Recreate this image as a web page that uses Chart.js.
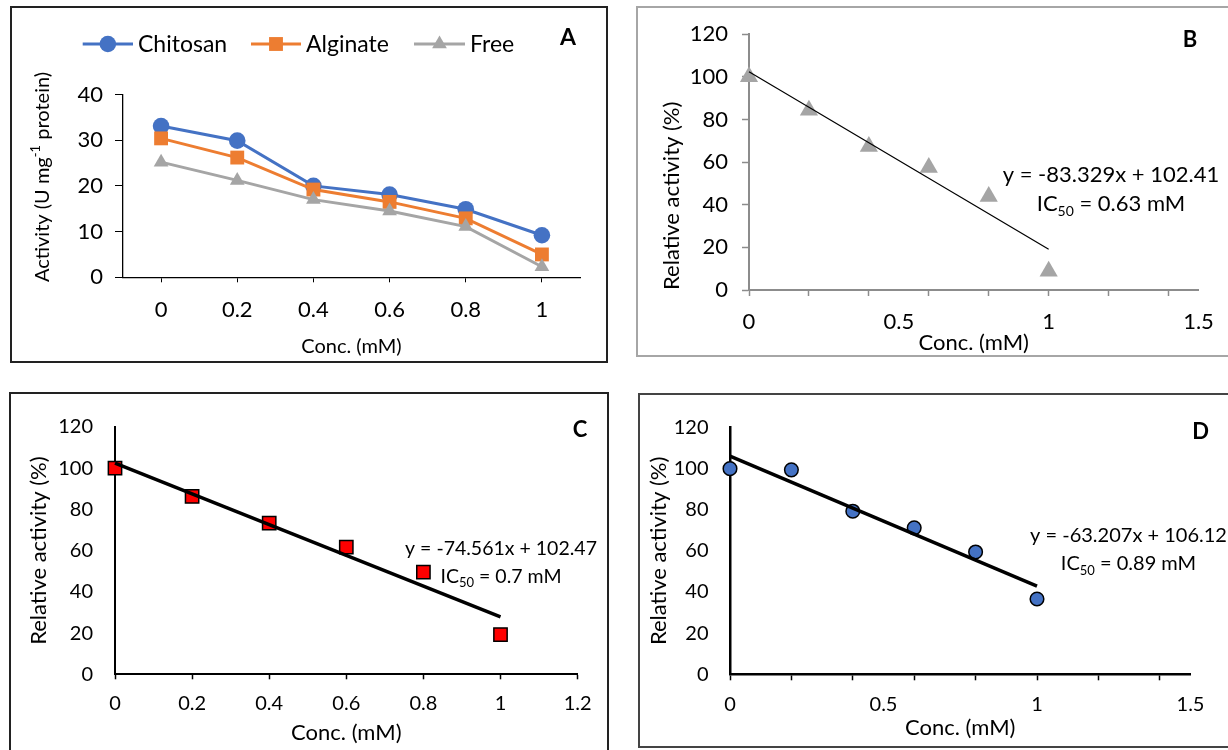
<!DOCTYPE html>
<html>
<head>
<meta charset="utf-8">
<script src="https://cdn.jsdelivr.net/npm/chart.js@4.4.1/dist/chart.umd.min.js"></script>
<style>
  html, body { margin:0; padding:0; background:#fff; }
  body { width:1228px; height:750px; position:relative; overflow:hidden; font-family: Lato, sans-serif; }
  canvas { position:absolute; }
  .frame { position:absolute; box-sizing:border-box; pointer-events:none; }
</style>
</head>
<body>
<canvas id="cA" width="597" height="356" style="left:10px;top:7px"></canvas>
<canvas id="cB" width="592" height="349" style="left:636px;top:7px"></canvas>
<canvas id="cC" width="599" height="357" style="left:10px;top:393px"></canvas>
<canvas id="cD" width="590" height="353" style="left:638px;top:394px"></canvas>
<div class="frame" style="left:10px;top:6px;width:598px;height:357px;border:2px solid #222"></div>
<div class="frame" style="left:636px;top:6px;width:620px;height:351px;border:2px solid #a6a6a6"></div>
<div class="frame" style="left:9px;top:392px;width:600px;height:380px;border:2px solid #222"></div>
<div class="frame" style="left:638px;top:393px;width:620px;height:355px;border:2px solid #444"></div>
<script>
// ---------- data ----------
const concLabelsA = ['0', '0.2', '0.4', '0.6', '0.8', '1'];
const chitosan = [33.1, 29.9, 20.0, 18.1, 14.9, 9.2];
const alginate = [30.4, 26.2, 19.2, 16.5, 12.9, 5.0];
const free     = [25.2, 21.2, 17.0, 14.5, 11.1, 2.3];

const concX = [0, 0.2, 0.4, 0.6, 0.8, 1];
const relFree     = [100, 84.3, 67.3, 57.5, 43.9, 8.8];
const relAlginate = [100, 86.3, 73.4, 61.7, 49.6, 19.3];
const relChitosan = [100, 99.4, 79.3, 71.2, 59.5, 36.6];

const slopeB = -83.329, interceptB = 102.41, ic50B = '0.63';
const slopeC = -74.561, interceptC = 102.47, ic50C = '0.7';
const slopeD = -63.207, interceptD = 106.12, ic50D = '0.89';

const xTicksB = [0, 0.2, 0.4, 0.5, 0.6, 0.8, 1, 1.2, 1.4, 1.5];
const xLabelsB = [0, 0.5, 1, 1.5];
const xTicksD = [0, 0.2, 0.4, 0.5, 0.6, 0.8, 1, 1.2, 1.4, 1.5];
const xLabelsD = [0, 0.5, 1, 1.5];

// ---------- helpers ----------
Chart.defaults.font.family = 'Lato';
Chart.defaults.color = '#000';
const FAM = 'Lato';
const near = (a, b) => Math.abs(a - b) < 1e-6;
const isTick02 = v => near(Math.round(v / 0.2) * 0.2, v) && !near(v, 1.5);

function drawMarker(ctx, style, x, y, r, fill, stroke, bw) {
  ctx.save();
  ctx.fillStyle = fill; ctx.strokeStyle = stroke; ctx.lineWidth = bw;
  ctx.beginPath();
  if (style === 'circle') ctx.arc(x, y, r, 0, Math.PI * 2);
  else if (style === 'rect') { const s = r * Math.SQRT1_2; ctx.rect(x - s, y - s, 2 * s, 2 * s); }
  else if (style === 'triangle') {
    ctx.moveTo(x, y - r);
    ctx.lineTo(x + r * Math.sin(Math.PI * 2 / 3), y - r * Math.cos(Math.PI * 2 / 3));
    ctx.lineTo(x + r * Math.sin(Math.PI * 4 / 3), y - r * Math.cos(Math.PI * 4 / 3));
    ctx.closePath();
  }
  ctx.fill(); if (bw > 0) ctx.stroke();
  ctx.restore();
}

const textPlugin = {
  id: 'panelText',
  afterDraw(chart, args, opts) {
    const ctx = chart.ctx;
    (opts.items || []).forEach(it => {
      ctx.save();
      ctx.fillStyle = it.color || '#000';
      ctx.textBaseline = 'middle';
      const size = it.size;
      const fontFor = r => `${it.bold ? 'bold ' : ''}${(r.sub || r.sup) ? Math.round(size * 0.65) : size}px ${FAM}`;
      let total = 0;
      it.runs.forEach(r => { ctx.font = fontFor(r); r.w = ctx.measureText(r.t).width; total += r.w; });
      ctx.translate(it.x, it.y);
      if (it.rotate) ctx.rotate(-Math.PI / 2);
      let x = it.align === 'center' ? -total / 2 : (it.align === 'right' ? -total : 0);
      it.runs.forEach(r => {
        ctx.font = fontFor(r); ctx.textAlign = 'left';
        const dy = r.sub ? size * 0.32 : (r.sup ? -size * 0.33 : 0);
        ctx.fillText(r.t, x, dy); x += r.w;
      });
      ctx.restore();
    });
  }
};

const legendPlugin = {
  id: 'lineLegend',
  afterDraw(chart, args, opts) {
    if (!opts.items) return;
    const ctx = chart.ctx;
    opts.items.forEach((it, i) => {
      const ds = chart.data.datasets[i];
      ctx.save();
      ctx.strokeStyle = ds.borderColor; ctx.lineWidth = ds.borderWidth;
      ctx.beginPath(); ctx.moveTo(it.x0, opts.y); ctx.lineTo(it.x1, opts.y); ctx.stroke();
      ctx.restore();
      drawMarker(ctx, ds.pointStyle, (it.x0 + it.x1) / 2, opts.y, ds.pointRadius, ds.pointBackgroundColor, ds.pointBorderColor, 0);
      ctx.save();
      ctx.fillStyle = '#000'; ctx.font = `${opts.size}px ${FAM}`;
      ctx.textBaseline = 'middle'; ctx.textAlign = 'left';
      ctx.fillText(ds.label, it.x1 + 5, opts.y + 1);
      ctx.restore();
    });
  }
};
Chart.register(textPlugin, legendPlugin);

const common = { responsive: false, animation: false, events: [], devicePixelRatio: 1 };
const icRuns = v => [{ t: 'IC' }, { t: '50', sub: true }, { t: ' = ' + v + ' mM' }];
const eqText = (m, b) => 'y = ' + m + 'x + ' + b;

// ---------- Panel A ----------
new Chart(document.getElementById('cA'), {
  type: 'line',
  data: {
    labels: concLabelsA,
    datasets: [
      { label: 'Chitosan', data: chitosan, order: 2, clip: false, borderColor: '#4472C4', borderWidth: 3,
        pointStyle: 'circle', pointRadius: 8.3, pointBackgroundColor: '#4472C4', pointBorderColor: '#4472C4', pointBorderWidth: 0 },
      { label: 'Alginate', data: alginate, order: 1, clip: false, borderColor: '#ED7D31', borderWidth: 3,
        pointStyle: 'rect', pointRadius: 9.8, pointBackgroundColor: '#ED7D31', pointBorderColor: '#ED7D31', pointBorderWidth: 0 },
      { label: 'Free', data: free, order: 0, clip: false, borderColor: '#A5A5A5', borderWidth: 3,
        pointStyle: 'triangle', pointRadius: 8.5, pointBackgroundColor: '#A5A5A5', pointBorderColor: '#A5A5A5', pointBorderWidth: 0 }
    ]
  },
  options: {
    ...common,
    layout: { padding: { top: 87.5, left: 0, right: 27, bottom: 0 } },
    plugins: {
      legend: { display: false }, tooltip: { enabled: false },
      lineLegend: { y: 37, size: 23, items: [ { x0: 72.7, x1: 123 }, { x0: 241, x1: 291 }, { x0: 404, x1: 455 } ] },
      panelText: { items: [
        { x: 558, y: 31, size: 23, bold: true, align: 'center', runs: [{ t: 'A' }] },
        { x: 32.6, y: 170, size: 20, rotate: true, align: 'center', runs: [{ t: 'Activity (U mg' }, { t: '-1', sup: true }, { t: ' protein)' }] }
      ] }
    },
    scales: {
      x: {
        offset: true,
        grid: { offset: false, drawOnChartArea: false, tickLength: 5, color: '#000', tickColor: '#000' },
        border: { color: '#000', width: 1.3 },
        ticks: { color: '#000', font: { size: 22 }, padding: 14.5, maxRotation: 0, autoSkip: false },
        title: { display: true, text: 'Conc. (mM)', color: '#000', font: { size: 20 }, padding: { top: 0, bottom: 4 } },
        afterFit: s => { s.height = 85.7; }
      },
      y: {
        min: 0, max: 40,
        grid: { drawOnChartArea: false, tickLength: 8, color: '#000' },
        border: { color: '#000', width: 1.3 },
        ticks: { stepSize: 10, color: '#000', font: { size: 22 }, padding: 12 },
        afterFit: s => { s.width = 113; }
      }
    }
  }
});

// ---------- scatter panels ----------
function scatterPanel(id, cfg) {
  const xScale = {
    type: 'linear', min: 0, max: cfg.xMax,
    grid: { drawOnChartArea: false, tickLength: cfg.xTickLen, color: cfg.axisColor,
            tickColor: c => (c.tick && isTick02(c.tick.value)) ? cfg.axisColor : 'rgba(0,0,0,0)', tickWidth: cfg.tickWidth },
    border: { color: cfg.axisColor, width: cfg.axisWidth },
    ticks: { color: '#000', font: { size: cfg.tickSize }, padding: cfg.xPad, maxRotation: 0, autoSkip: false, includeBounds: false,
             callback: v => (cfg.xLabels ? (cfg.xLabels.some(l => near(l, v)) ? String(+v.toFixed(1)) : '') : String(+v.toFixed(1))) },
    title: { display: true, text: 'Conc. (mM)', color: '#000', font: { size: cfg.titleSize }, padding: { top: 0, bottom: cfg.xTitlePad } },
    afterFit: s => { s.height = cfg.xHeight; }
  };
  if (cfg.xTicks) xScale.afterBuildTicks = s => { s.ticks = cfg.xTicks.map(v => ({ value: v })); };
  else xScale.ticks.stepSize = 0.2;

  return new Chart(document.getElementById(id), {
    type: 'scatter',
    data: {
      datasets: [
        { label: 'trend', type: 'line', order: 0, clip: false, showLine: true, pointRadius: 0, borderColor: '#000', borderWidth: cfg.trendWidth,
          data: [{ x: 0, y: cfg.b }, { x: 1, y: cfg.m + cfg.b }] },
        { label: 'data', order: 1, clip: false, showLine: false, pointStyle: cfg.pointStyle, pointRadius: cfg.pointRadius,
          pointBackgroundColor: cfg.fill, pointBorderColor: cfg.stroke, pointBorderWidth: cfg.pointBorder,
          data: concX.map((x, i) => ({ x, y: cfg.values[i] })) }
      ]
    },
    options: {
      ...common,
      layout: { padding: { top: cfg.top, left: 0, right: cfg.right, bottom: 0 } },
      plugins: {
        legend: { display: false }, tooltip: { enabled: false },
        panelText: { items: [
          { x: cfg.letterX, y: cfg.letterY, size: 22, bold: true, align: 'center', runs: [{ t: cfg.letter }] },
          { x: cfg.eqX, y: cfg.eqY, size: cfg.eqSize, align: 'center', runs: [{ t: eqText(cfg.m, cfg.b) }] },
          { x: cfg.eqX, y: cfg.icY, size: cfg.eqSize, align: 'center', runs: icRuns(cfg.ic) }
        ] }
      },
      scales: {
        x: xScale,
        y: {
          min: 0, max: 120,
          grid: { drawOnChartArea: false, drawTicks: cfg.yTicks, tickLength: 7, color: cfg.axisColor, tickWidth: cfg.tickWidth },
          border: { color: cfg.axisColor, width: cfg.axisWidth },
          ticks: { stepSize: 20, color: '#000', font: { size: cfg.tickSize }, padding: cfg.yPad },
          title: { display: true, text: 'Relative activity (%)', color: '#000', font: { size: cfg.titleSize },
                   align: cfg.yTitleAlign, padding: { top: cfg.yTitlePad, bottom: 0 } },
          afterFit: s => { s.width = cfg.yWidth; }
        }
      }
    }
  });
}

scatterPanel('cB', {
  xMax: 1.5, xTicks: xTicksB, xLabels: xLabelsB, values: relFree, m: slopeB, b: interceptB, ic: ic50B,
  axisColor: '#8c8c8c', axisWidth: 2, tickWidth: 1.5, xTickLen: 6, yTicks: true,
  tickSize: 22, titleSize: 22, xPad: 12.5, yPad: 14, xTitlePad: 0, yTitlePad: 22.3, yTitleAlign: 'start',
  xHeight: 66, yWidth: 113, top: 22.3, right: 29.5,
  pointStyle: 'triangle', pointRadius: 10.5, fill: '#A5A5A5', stroke: '#A5A5A5', pointBorder: 0, trendWidth: 1.2,
  letter: 'B', letterX: 554, letterY: 32.5, eqX: 475, eqY: 168, icY: 197, eqSize: 22
});

scatterPanel('cC', {
  xMax: 1.2, xTicks: null, xLabels: null, values: relAlginate, m: slopeC, b: interceptC, ic: ic50C,
  axisColor: '#000', axisWidth: 2, tickWidth: 1.5, xTickLen: 5, yTicks: false,
  tickSize: 20, titleSize: 22, xPad: 12, yPad: 22, xTitlePad: 3.8, yTitlePad: 15.8, yTitleAlign: 'center',
  xHeight: 75.7, yWidth: 105, top: 23.7, right: 31.4,
  pointStyle: 'rect', pointRadius: 9.4, fill: '#FF0000', stroke: '#000', pointBorder: 1.5, trendWidth: 3.5,
  letter: 'C', letterX: 570, letterY: 37, eqX: 491, eqY: 156, icY: 184, eqSize: 19.5
});

scatterPanel('cD', {
  xMax: 1.5, xTicks: xTicksD, xLabels: xLabelsD, values: relChitosan, m: slopeD, b: interceptD, ic: ic50D,
  axisColor: '#000', axisWidth: 2.5, tickWidth: 1.5, xTickLen: 6, yTicks: false,
  tickSize: 20, titleSize: 22, xPad: 12.7, yPad: 21.5, xTitlePad: 5.8, yTitlePad: 7.3, yTitleAlign: 'center',
  xHeight: 72.7, yWidth: 92, top: 21.7, right: 37.5,
  pointStyle: 'circle', pointRadius: 6.8, fill: '#4472C4', stroke: '#000', pointBorder: 1.5, trendWidth: 3.5,
  letter: 'D', letterX: 562.5, letterY: 37.7, eqX: 490.5, eqY: 141.7, icY: 170, eqSize: 20
});
</script>
</body>
</html>
